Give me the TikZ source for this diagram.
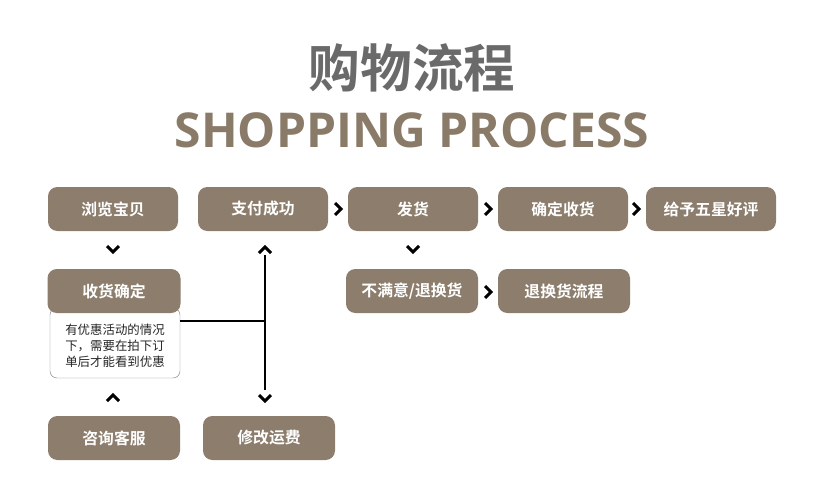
\documentclass[tikz,border=0pt]{standalone}
\usepackage{fontspec}
\setmainfont{Open Sans}
\newfontfamily\cjk{Noto Sans CJK SC}
\newfontfamily\cjkb{Noto Sans CJK SC Bold}
\definecolor{boxbrown}{HTML}{8C7D6C}
\definecolor{titlegray}{HTML}{6A6A6A}
\definecolor{subbrown}{HTML}{8A7A68}
\newcommand{\chevR}[1]{\draw[line width=2.6pt] ($(#1)+(-3,-6)$) -- ($(#1)+(3,0)$) -- ($(#1)+(-3,6)$);}
\newcommand{\chevD}[1]{\draw[line width=2.6pt] ($(#1)+(-6,-3)$) -- ($(#1)+(0,3)$) -- ($(#1)+(6,-3)$);}
\newcommand{\chevU}[1]{\draw[line width=2.6pt] ($(#1)+(-6,3)$) -- ($(#1)+(0,-3)$) -- ($(#1)+(6,3)$);}
\usetikzlibrary{calc}
\begin{document}
\begin{tikzpicture}[x=0.03cm, y=-0.03cm,
    stage/.style={fill=boxbrown, rounded corners=8pt, minimum width=130*0.03cm,
                 minimum height=44*0.03cm, text=white, font=\cjkb\fontsize{13.5}{14}\selectfont,
                 inner sep=0pt},
    link/.style={line width=2.2pt}
  ]
  \useasboundingbox (0,0) rectangle (840,502);
  % title
  \node[text=titlegray, font=\cjkb\fontsize{44}{48}\selectfont] (title) at (412,68) {购物流程};
  \node[text=subbrown, font=\bfseries\fontsize{41}{44}\selectfont] (sub) at (412,130) {SHOPPING PROCESS};

  % note under 收货确定
  \node[draw=gray, fill=white, rounded corners=6pt, minimum width=130*0.03cm,
        minimum height=70*0.03cm, inner sep=0pt] (note) at (115,343) {};
  \node[font=\cjk\fontsize{10.6}{13.5}\selectfont, align=left, text=black!85] (notetxt) at (115,346)
    {有优惠活动的情况\\下，需要在拍下订\\单后才能看到优惠};

  % stages
  \node[stage] (browse) at (113,209) {浏览宝贝};
  \node[stage] (pay)    at (263,209) {支付成功};
  \node[stage] (ship)   at (413,209) {发货};
  \node[stage] (recv)   at (563,209) {确定收货};
  \node[stage] (rate)   at (711,209) {给予五星好评};
  \node[stage, minimum width=133*0.03cm] (confirm) at (114,291) {收货确定};
  \node[stage, minimum width=132*0.03cm] (unhappy) at (412,291) {不满意/退换货};
  \node[stage, minimum width=132*0.03cm] (refund)  at (564,291) {退换货流程};
  \node[stage, minimum width=132*0.03cm] (ask)     at (114,438) {咨询客服};
  \node[stage, minimum width=132*0.03cm] (fee)     at (269,438) {修改运费};

  % connectors
  \coordinate (hub) at (265,321);
  \coordinate (hubtop) at (265,255);
  \coordinate (hubbot) at (265,390);
  \draw[link] (note.east |- hub) -- (hub);
  \draw[link] (hubtop) -- (hubbot);

  % chevrons
  \chevR{338,209} \chevR{488,209} \chevR{636,209} \chevR{488,292}
  \chevD{113,249} \chevD{413,249} \chevD{265,398}
  \chevU{113,398} \chevU{265,250}
\end{tikzpicture}
\end{document}
